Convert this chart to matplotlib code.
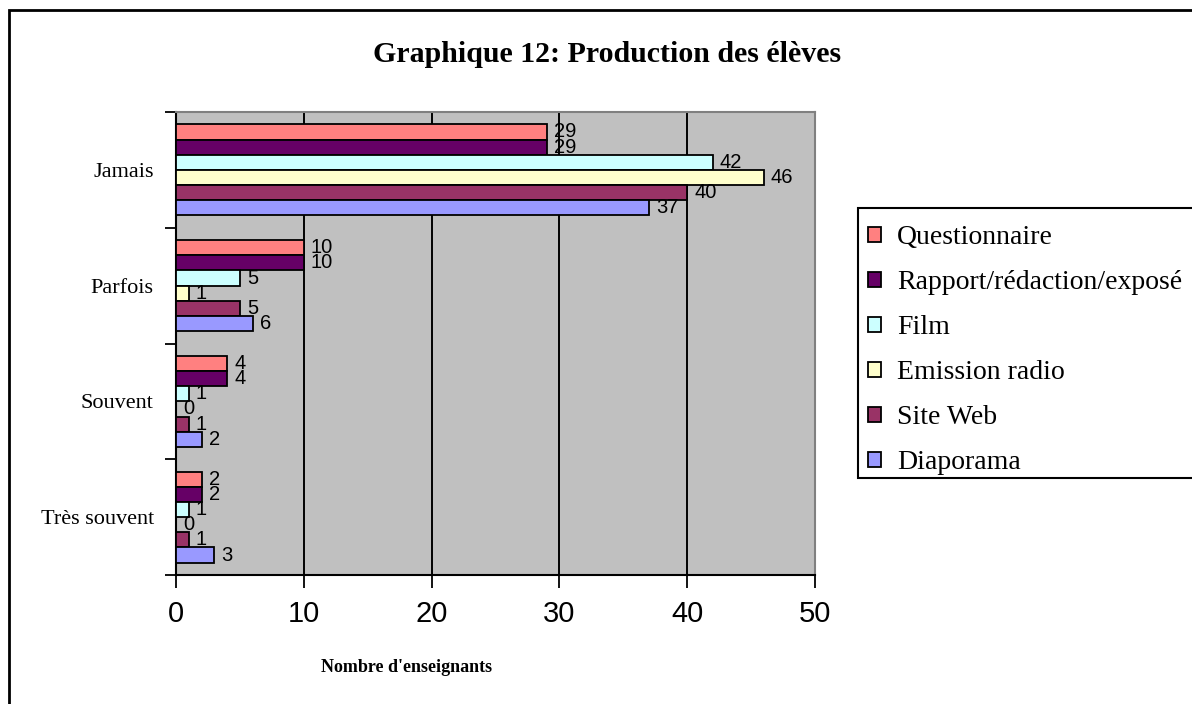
import matplotlib
matplotlib.use("Agg")
import matplotlib.pyplot as plt
from matplotlib.patches import Rectangle, Patch
import numpy as np

categories = ["Jamais", "Parfois", "Souvent", "Très souvent"]
series_names = ["Questionnaire", "Rapport/rédaction/exposé", "Film",
                "Emission radio", "Site Web", "Diaporama"]
questionnaire = [29, 10, 4, 2]
rapport = [29, 10, 4, 2]
film = [42, 5, 1, 1]
emission = [46, 1, 0, 0]
site_web = [40, 5, 1, 1]
diaporama = [37, 6, 2, 3]
series_values = [questionnaire, rapport, film, emission, site_web, diaporama]
colors = ["#FF8080", "#660066", "#CCFFFF", "#FFFFCC", "#993366", "#9999FF"]
x_ticks = [0, 10, 20, 30, 40, 50]

W, H = 1192, 704
fig = plt.figure(figsize=(W / 100, H / 100), dpi=100)
fig.patch.set_facecolor("white")

# outer border (only top/left visible)
fig.add_artist(Rectangle((9 / W, -0.1), 1.2, (1 - 9.5 / H) + 0.1,
                         transform=fig.transFigure, fill=False,
                         edgecolor="black", linewidth=2))

left, right, top, bottom = 176, 815, 112, 575
ax = fig.add_axes([left / W, 1 - bottom / H, (right - left) / W, (bottom - top) / H])
ax.set_facecolor("#C0C0C0")

n = len(series_names)
h = 0.131
y = np.arange(len(categories))
for j, (vals, col) in enumerate(zip(series_values, colors)):
    pos = y + (j - (n - 1) / 2) * h
    bars = ax.barh(pos, vals, height=h, color=col, edgecolor="black",
                   linewidth=1.3, zorder=3)
    ax.bar_label(bars, labels=[str(v) for v in vals], padding=5,
                 fontsize=14.5, family="Liberation Sans", zorder=4)

ax.set_xlim(0, 50)
ax.set_ylim(len(categories) - 0.5, -0.5)
ax.set_xticks(x_ticks)
ax.set_xticklabels([str(t) for t in x_ticks], family="Liberation Sans", fontsize=21)
ax.tick_params(axis="x", direction="out", length=9, width=1.3, pad=9, colors="black")
for t in x_ticks[1:-1]:
    ax.axvline(t, color="black", linewidth=1.4, zorder=1)

ax.set_yticks(np.arange(len(categories) + 1) - 0.5)
ax.set_yticklabels([])
ax.set_yticks(y, minor=True)
ax.set_yticklabels(categories, minor=True, family="Liberation Serif", fontsize=16)
ax.tick_params(axis="y", which="major", direction="out", length=8, width=1.3)
ax.tick_params(axis="y", which="minor", length=0, pad=16)

ax.spines["left"].set_linewidth(1.5)
ax.spines["bottom"].set_linewidth(1.5)
ax.spines["top"].set_color("#808080")
ax.spines["right"].set_color("#808080")
ax.spines["top"].set_linewidth(1.5)
ax.spines["right"].set_linewidth(1.5)

fig.text(607.5 / W, 1 - 62 / H, "Graphique 12: Production des élèves",
         ha="center", va="baseline", family="Liberation Serif",
         fontweight="bold", fontsize=21.5)
fig.text(407 / W, 1 - 672 / H, "Nombre d'enseignants", ha="center", va="baseline",
         family="Liberation Serif", fontweight="bold", fontsize=13)

# legend frame
fig.add_artist(Rectangle((858 / W, 1 - 478 / H), (1196 - 858) / W, (478 - 208) / H,
                         transform=fig.transFigure, facecolor="white",
                         edgecolor="black", linewidth=1.5, zorder=5))
handles = [Patch(facecolor=c, edgecolor="black", linewidth=1.3) for c in colors]
leg = fig.legend(handles, series_names, loc="upper left",
                 bbox_to_anchor=(858 / W, 1 - 215 / H), borderaxespad=0,
                 prop={"family": "Liberation Serif", "size": 20},
                 frameon=False,
                 handlelength=0.45, handleheight=0.45, handletextpad=0.6,
                 labelspacing=0.72, borderpad=0.36)
leg.set_zorder(6)

fig.savefig("out.png", dpi=100)
